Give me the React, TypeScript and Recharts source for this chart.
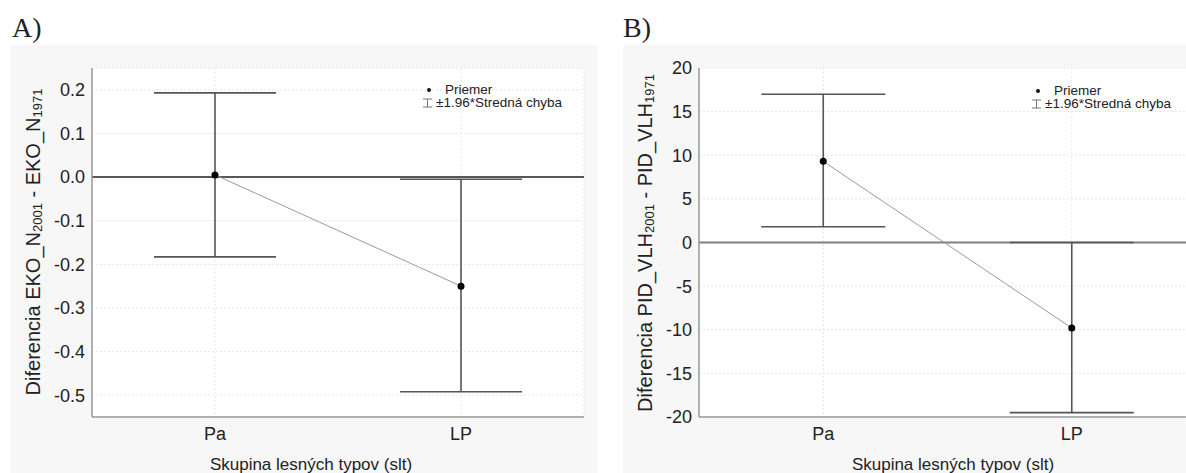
import { ComposedChart, Line, ErrorBar, XAxis, YAxis, CartesianGrid, ReferenceLine } from 'recharts'

const slt = ['Pa', 'LP']

// A) EKO_N difference
const ekoMean = [0.005, -0.25]
const ekoLow = [-0.183, -0.492]
const ekoHigh = [0.193, -0.005]
const ekoTicks = [-0.5, -0.4, -0.3, -0.2, -0.1, 0, 0.1, 0.2]

// B) PID_VLH difference
const pidMean = [9.3, -9.8]
const pidLow = [1.8, -19.5]
const pidHigh = [17, 0]
const pidTicks = [-20, -15, -10, -5, 0, 5, 10, 15, 20]

const build = (mean: number[], low: number[], high: number[]) =>
  slt.map((s, i) => ({ slt: s, mean: mean[i], err: [mean[i] - low[i], high[i] - mean[i]] }))

const ekoData = build(ekoMean, ekoLow, ekoHigh)
const pidData = build(pidMean, pidLow, pidHigh)

const FONT = 'Arial, "Liberation Sans", sans-serif'
const BORDER = { stroke: '#9a9a9a', strokeWidth: 1.5 }

interface PanelProps {
  data: { slt: string; mean: number; err: number[] }[]
  domain: [number, number]
  ticks: number[]
  fmt: (v: number) => string
  left: number
  width: number
  margin: { top: number; right: number; left: number; bottom: number }
  cap: number
  zeroColor: string
  zeroWidth: number
}

function Panel({ data, domain, ticks, fmt, left, width, margin, cap, zeroColor, zeroWidth }: PanelProps) {
  return (
    <div style={{ position: 'absolute', left, top: 0 }}>
      <ComposedChart width={width} height={473} data={data} margin={margin}>
        <CartesianGrid stroke="#e6e6e6" strokeDasharray="2 2" fill="#fff" />
        <XAxis
          dataKey="slt"
          scale="band"
          height={30}
          tickLine={false}
          tickSize={0}
          tickMargin={10}
          axisLine={BORDER}
          tick={{ fontSize: 18, fill: '#222' }}
        />
        <XAxis xAxisId="top" dataKey="slt" scale="band" orientation="top" height={0} tick={false} tickLine={false} axisLine={BORDER} />
        <YAxis
          type="number"
          domain={domain}
          ticks={ticks}
          allowDataOverflow
          width={60}
          tickLine={false}
          tickSize={0}
          tickMargin={7}
          axisLine={BORDER}
          tickFormatter={fmt}
          tick={{ fontSize: 18, fill: '#222' }}
        />
        <YAxis yAxisId="r" orientation="right" type="number" domain={domain} width={0} tick={false} tickLine={false} axisLine={BORDER} />
        <ReferenceLine y={0} stroke={zeroColor} strokeWidth={zeroWidth} />
        <Line
          dataKey="mean"
          stroke="#9a9a9a"
          strokeWidth={1}
          isAnimationActive={false}
          dot={(p: any) => <circle key={p.index} cx={p.cx} cy={p.cy} r={3.5} fill="#000" />}
        >
          <ErrorBar dataKey="err" direction="y" width={cap} stroke="#555" strokeWidth={1.6} isAnimationActive={false} />
        </Line>
      </ComposedChart>
    </div>
  )
}

function Legend({ x, y }: { x: number; y: number }) {
  return (
    <g fontSize={13.5} fill="#222">
      <circle cx={x + 6} cy={y - 4} r={2} fill="#111" />
      <text x={x + 22} y={y}>Priemer</text>
      <path d={`M${x} ${y + 5}h9M${x + 4.5} ${y + 5}v8M${x} ${y + 13}h9`} stroke="#777" strokeWidth={1} fill="none" />
      <text x={x + 13} y={y + 13}>±1.96*Stredná chyba</text>
    </g>
  )
}

export default function App() {
  return (
    <div style={{ position: 'absolute', left: 0, top: 0, width: 1186, height: 473, overflow: 'hidden', background: '#fff', fontFamily: FONT }}>
      <div style={{ position: 'absolute', left: 10, top: 45, width: 588, height: 428, background: '#f7f7f7' }} />
      <div style={{ position: 'absolute', left: 623, top: 45, width: 563, height: 428, background: '#f7f7f7' }} />
      <Panel
        data={ekoData}
        domain={[-0.55, 0.25]}
        ticks={ekoTicks}
        fmt={(v) => v.toFixed(1)}
        left={0}
        width={600}
        margin={{ top: 68, right: 16, left: 32, bottom: 26 }}
        cap={61}
        zeroColor="#222"
        zeroWidth={1.5}
      />
      <Panel
        data={pidData}
        domain={[-20, 20]}
        ticks={pidTicks}
        fmt={(v) => String(v)}
        left={590}
        width={616}
        margin={{ top: 68, right: 10, left: 49, bottom: 26 }}
        cap={62}
        zeroColor="#808080"
        zeroWidth={2}
      />
      <svg width={1186} height={473} style={{ position: 'absolute', left: 0, top: 0, pointerEvents: 'none' }}>
        <text x={12} y={37} fontSize={28} fontFamily='"Liberation Serif", "Times New Roman", serif' fill="#222">A)</text>
        <text x={623} y={37} fontSize={28} fontFamily='"Liberation Serif", "Times New Roman", serif' fill="#222">B)</text>

        <text transform="translate(33,242) rotate(-90)" textAnchor="middle" dominantBaseline="central" fontSize={20} fill="#222">
          Diferencia EKO_N<tspan fontSize={13} dy={4}>2001</tspan>
          <tspan dy={-4}> - EKO_N</tspan>
          <tspan fontSize={13} dy={4}>1971</tspan>
        </text>
        <text transform="translate(645,243) rotate(-90)" textAnchor="middle" dominantBaseline="central" fontSize={20} fill="#222">
          Diferencia PID_VLH<tspan fontSize={13} dy={4}>2001</tspan>
          <tspan dy={-4}> - PID_VLH</tspan>
          <tspan fontSize={13} dy={4}>1971</tspan>
        </text>

        <text x={311} y={470} textAnchor="middle" fontSize={17} fill="#222">Skupina lesných typov (slt)</text>
        <text x={953} y={470} textAnchor="middle" fontSize={17} fill="#222">Skupina lesných typov (slt)</text>

        <Legend x={423} y={94} />
        <Legend x={1032} y={95} />
      </svg>
    </div>
  )
}
